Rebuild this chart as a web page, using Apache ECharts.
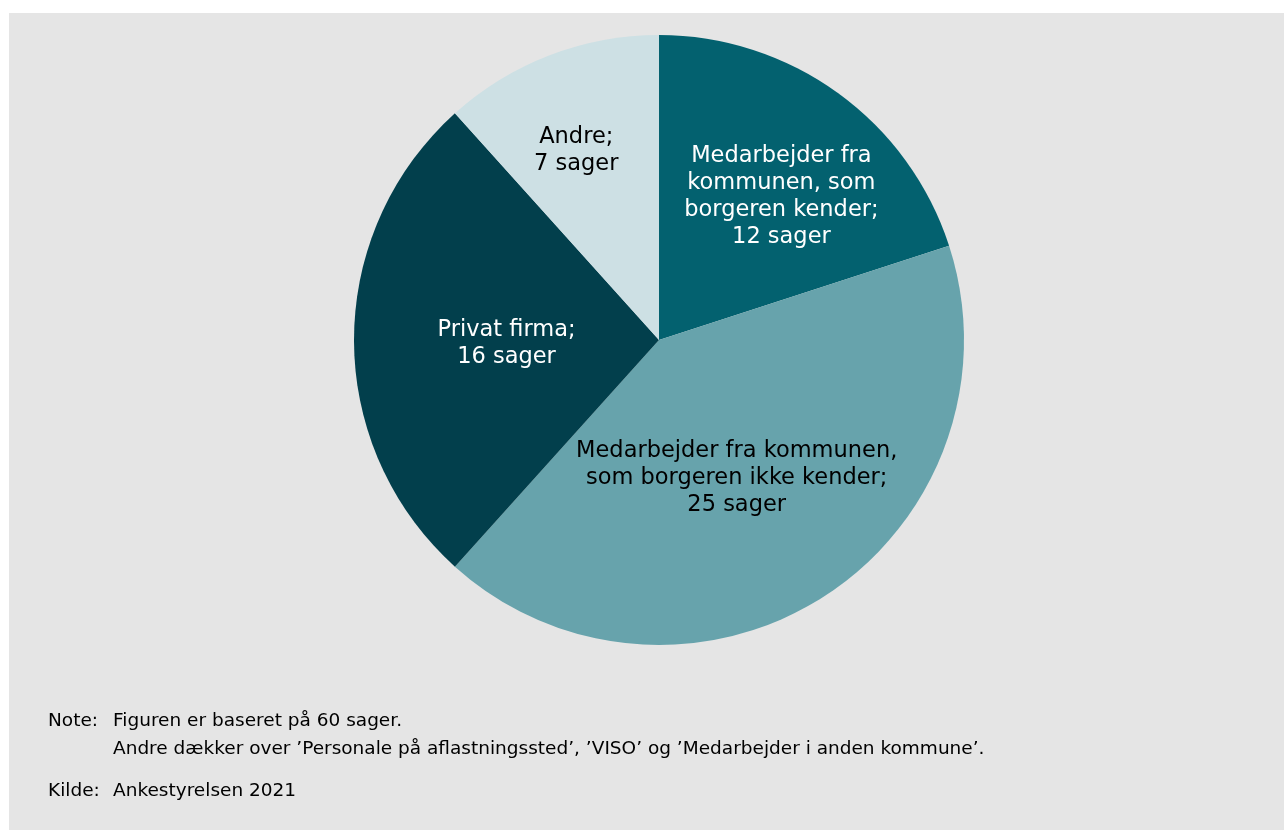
<!DOCTYPE html>
<html>
<head>
<meta charset="utf-8">
<script src="https://cdn.jsdelivr.net/npm/echarts@6/dist/echarts.min.js"></script>
<style>
  html, body { margin: 0; padding: 0; background: #ffffff; width: 1284px; height: 830px; overflow: hidden; }
  #panel { position: absolute; left: 9px; top: 13px; width: 1275px; height: 817px; background: #e5e5e5; }
  #chart { width: 1275px; height: 817px; }
</style>
</head>
<body>
<div id="panel"><div id="chart"></div></div>
<script>
// Data
const categories = [
  'Medarbejder fra\nkommunen, som\nborgeren kender',
  'Medarbejder fra kommunen,\nsom borgeren ikke kender',
  'Privat firma',
  'Andre'
];
const values = [12, 25, 16, 7];
const unitLabel = 'sager';
const noteLines = [
  'Figuren er baseret på 60 sager.',
  'Andre dækker over ’Personale på aflastningssted’, ’VISO’ og ’Medarbejder i anden kommune’.'
];
const sourceText = 'Ankestyrelsen 2021';

// Styles
const sliceColors = ['#03616f', '#67a3ac', '#023f4c', '#cde0e4'];
const labelColors = ['#ffffff', '#000000', '#ffffff', '#000000'];
const labelShift = [[31, -18], [-7, 8], [3, 4], [-27, -44]];
const FONT = '"DejaVu Sans", Verdana, sans-serif';
const NOTE_FONT = '18.5px ' + FONT;

const chart = echarts.init(document.getElementById('chart'), null, { renderer: 'canvas' });

const option = {
  backgroundColor: 'transparent',
  animation: false,
  series: [{
    type: 'pie',
    center: [650, 327],
    radius: [0, 305],
    startAngle: 90,
    clockwise: true,
    silent: true,
    data: categories.map((c, i) => ({
      name: c,
      value: values[i],
      itemStyle: { color: sliceColors[i] },
      label: { color: labelColors[i] }
    })),
    itemStyle: { borderWidth: 0 },
    label: {
      show: true,
      position: 'inside',
      formatter: p => p.name + ';\n' + p.value + ' ' + unitLabel,
      fontFamily: FONT,
      fontSize: 22.5,
      lineHeight: 27,
      align: 'center'
    },
    labelLine: { show: false },
    labelLayout: function (params) {
      const s = labelShift[params.dataIndex];
      return { dx: s[0], dy: s[1] };
    }
  }],
  graphic: [
    { type: 'text', left: 39, top: 699, style: { text: 'Note:', font: NOTE_FONT, fill: '#000' } },
    { type: 'text', left: 104, top: 699, style: { text: noteLines[0], font: NOTE_FONT, fill: '#000' } },
    { type: 'text', left: 104, top: 727, style: { text: noteLines[1], font: NOTE_FONT, fill: '#000' } },
    { type: 'text', left: 39, top: 769, style: { text: 'Kilde:', font: NOTE_FONT, fill: '#000' } },
    { type: 'text', left: 104, top: 769, style: { text: sourceText, font: NOTE_FONT, fill: '#000' } }
  ]
};
chart.setOption(option);
</script>
</body>
</html>
